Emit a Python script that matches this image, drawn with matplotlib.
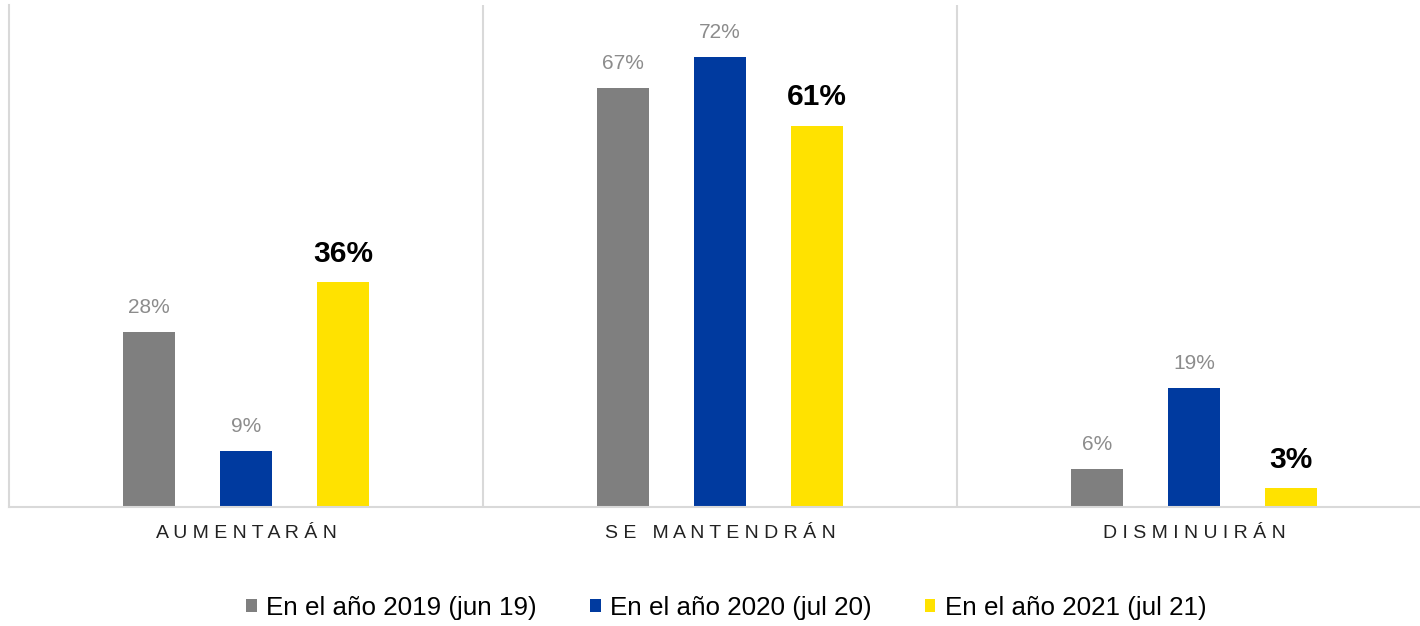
import matplotlib.pyplot as plt
from matplotlib.patches import Patch
import numpy as np

plt.rcParams['font.family'] = ['Liberation Sans', 'DejaVu Sans']

categories = ["AUMENTARÁN", "SE MANTENDRÁN", "DISMINUIRÁN"]
series_labels = ["En el año 2019 (jun 19)", "En el año 2020 (jul 20)", "En el año 2021 (jul 21)"]
values_2019 = [28, 67, 6]
values_2020 = [9, 72, 19]
values_2021 = [36, 61, 3]
colors = ["#7f7f7f", "#003a9f", "#ffe200"]

fig = plt.figure(figsize=(14.2, 6.26), dpi=100)
ax = fig.add_axes([9 / 1420, 119 / 626, 1411 / 1420, 502 / 626])

x = np.arange(len(categories))
offsets = [-0.205, 0.0, 0.205]
width = 0.11
all_series = [values_2019, values_2020, values_2021]

for i, vals in enumerate(all_series):
    bars = ax.bar(x + offsets[i], vals, width, color=colors[i], zorder=2)
    for b, v in zip(bars, vals):
        if i == 2:
            ax.text(b.get_x() + b.get_width() / 2, v + 2.3, f"{v}%", ha='center', va='bottom',
                    fontsize=21.5, fontweight='bold', color='black')
        else:
            ax.text(b.get_x() + b.get_width() / 2, v + 2.4, f"{v}%", ha='center', va='bottom',
                    fontsize=15, color='#8c8c8c')

# separators between groups
for xs in [0.5, 1.5]:
    ax.axvline(xs, color='#d9d9d9', lw=1.5, zorder=1)

ax.set_ylim(0, 80.3)
ax.set_xlim(-0.5, 2.5 - 11 / 474)
ax.set_yticks([])
ax.set_xticks(x)
ax.set_xticklabels([" ".join(c) for c in categories], fontsize=14, color='#222222')
ax.tick_params(axis='x', length=0, pad=13)

for s in ['top', 'right']:
    ax.spines[s].set_visible(False)
ax.spines['left'].set_color('#d9d9d9')
ax.spines['left'].set_linewidth(1.5)
ax.spines['bottom'].set_color('#d9d9d9')
ax.spines['bottom'].set_linewidth(1.5)

handles = [Patch(facecolor=c, edgecolor='none') for c in colors]
fig.legend(handles, series_labels, loc='center', bbox_to_anchor=(726 / 1420, 18 / 626),
           ncol=3, frameon=False, fontsize=18.7, handlelength=0.42, handleheight=0.42,
           handletextpad=0.35, columnspacing=2.05)

fig.savefig("out.png", dpi=100)
plt.close()
